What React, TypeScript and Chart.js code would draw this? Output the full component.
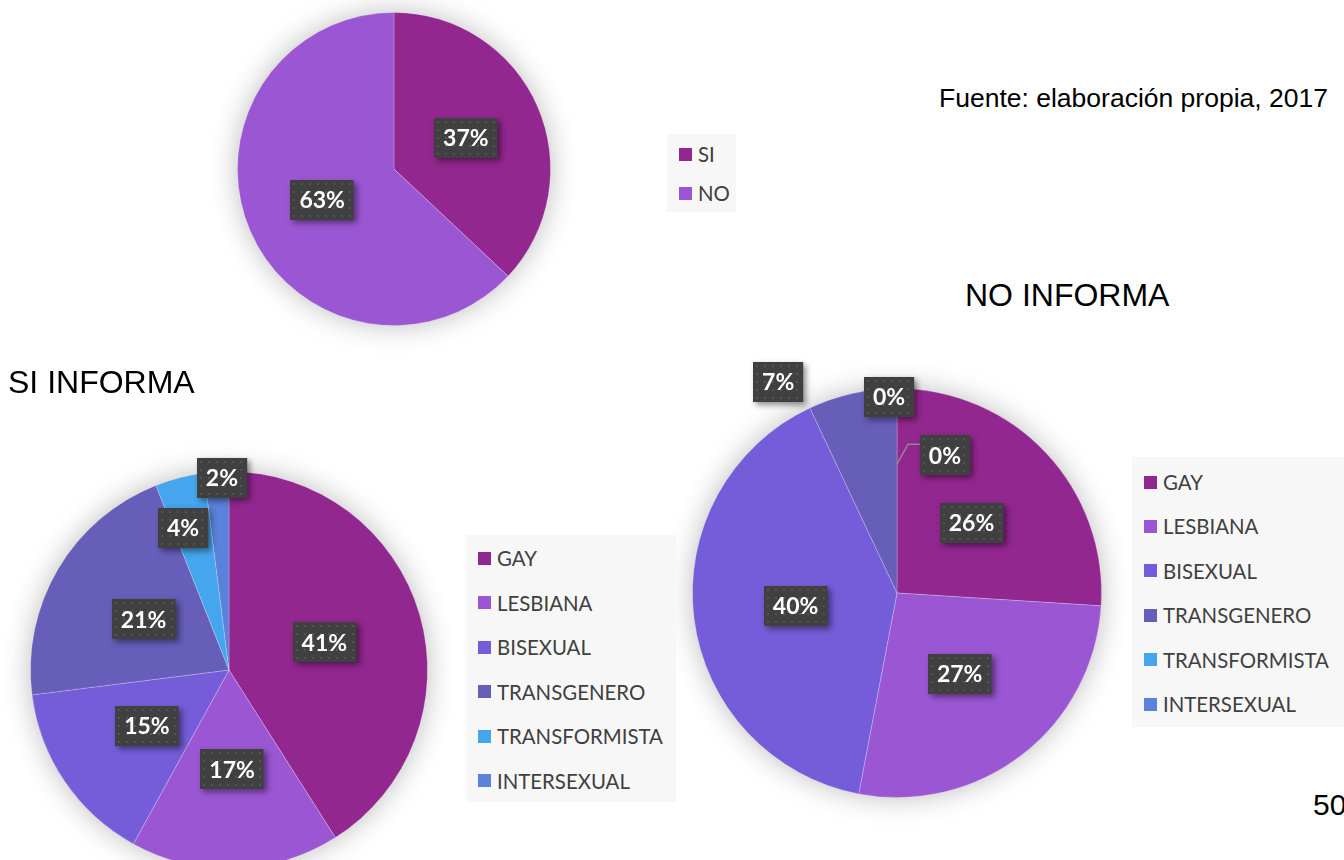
import React, { useEffect, useRef } from "react";
import { Chart, registerables } from "chart.js";
Chart.register(...registerables);

// ---------- data ----------
const overviewLabels = ["SI", "NO"];
const overviewValues = [37, 63];
const overviewColors = ["#92278F", "#9B57D3"];

const orientationLabels = ["GAY", "LESBIANA", "BISEXUAL", "TRANSGENERO", "TRANSFORMISTA", "INTERSEXUAL"];
const siInformaValues = [41, 17, 15, 21, 4, 2];
const noInformaValues = [26, 27, 40, 7, 0, 0];
const orientationColors = ["#92278F", "#9B57D3", "#755DD9", "#665EB8", "#45A5ED", "#5982DB"];

const sourceText = "Fuente: elaboración propia, 2017";
const siTitle = "SI INFORMA";
const noTitle = "NO INFORMA";
const pageNumber = "50";

type Place = { r: number; da: number; leader?: boolean };

function makePlugin(places: Place[]) {
  return {
    id: "boxLabels",
    beforeDatasetsDraw(chart: any) {
      const meta = chart.getDatasetMeta(0);
      const arc = meta.data[0];
      if (!arc) return;
      const p = arc.getProps(["x", "y", "outerRadius"], true);
      const ctx = chart.ctx;
      ctx.save();
      ctx.shadowColor = "rgba(0,0,0,0.30)";
      ctx.shadowBlur = 30;
      ctx.fillStyle = "#ffffff";
      ctx.beginPath();
      ctx.arc(p.x, p.y, p.outerRadius - 2, 0, Math.PI * 2);
      ctx.fill();
      ctx.restore();
    },
    afterDatasetsDraw(chart: any) {
      const ctx = chart.ctx;
      const meta = chart.getDatasetMeta(0);
      const values: number[] = chart.data.datasets[0].data;
      const total = values.reduce((a, b) => a + b, 0);
      meta.data.forEach((arc: any, i: number) => {
        const pl = places[i] || { r: 0.5, da: 0 };
        const p = arc.getProps(["x", "y", "startAngle", "endAngle", "outerRadius"], true);
        const mid0 = (p.startAngle + p.endAngle) / 2;
        const mid = mid0 + (pl.da * Math.PI) / 180;
        const rr = p.outerRadius * pl.r;
        const cx = p.x + Math.cos(mid) * rr;
        const cy = p.y + Math.sin(mid) * rr;
        const text = Math.round((values[i] / total) * 100) + "%";
        ctx.save();
        ctx.font = "bold 23px Lato";
        const w = ctx.measureText(text).width + 18;
        const h = 40;
        const left = Math.round(cx - w / 2);
        const top = Math.round(cy - h / 2);
        if (pl.leader) {
          const sx = p.x + Math.cos(mid0) * p.outerRadius * 0.63;
          const sy = p.y + Math.sin(mid0) * p.outerRadius * 0.63;
          ctx.strokeStyle = "#8c8c8c";
          ctx.lineWidth = 1.5;
          ctx.beginPath();
          ctx.moveTo(sx, sy);
          ctx.lineTo(sx + 11, sy - 20);
          ctx.lineTo(left, sy - 20);
          ctx.stroke();
        }
        ctx.shadowColor = "rgba(0,0,0,0.45)";
        ctx.shadowBlur = 6;
        ctx.shadowOffsetX = 3;
        ctx.shadowOffsetY = 3;
        ctx.fillStyle = "#404040";
        ctx.fillRect(left, top, w, h);
        ctx.shadowColor = "transparent";
        ctx.shadowBlur = 0;
        ctx.shadowOffsetX = 0;
        ctx.shadowOffsetY = 0;
        ctx.fillStyle = "#545454";
        for (let gx = left + 3; gx < left + w - 1; gx += 8) {
          for (let gy = top + 3; gy < top + h - 1; gy += 8) {
            ctx.fillRect(gx, gy, 2, 2);
          }
        }
        ctx.fillStyle = "#ffffff";
        ctx.textAlign = "center";
        ctx.textBaseline = "middle";
        ctx.fillText(text, cx, cy + 1);
        ctx.restore();
      });
    },
  };
}

function Pie(props: {
  labels: string[];
  values: number[];
  colors: string[];
  cx: number;
  cy: number;
  r: number;
  places: Place[];
}) {
  const ref = useRef<HTMLCanvasElement | null>(null);
  const m = 45;
  const size = 2 * (props.r + m);
  useEffect(() => {
    if (!ref.current) return;
    const chart = new Chart(ref.current, {
      type: "pie",
      data: {
        labels: props.labels,
        datasets: [
          {
            data: props.values,
            backgroundColor: props.colors,
            borderColor: "rgba(255,255,255,0.22)",
            borderWidth: 1,
          },
        ],
      },
      options: {
        animation: false,
        responsive: false,
        maintainAspectRatio: false,
        layout: { padding: m },
        plugins: { legend: { display: false }, tooltip: { enabled: false } },
      },
      plugins: [makePlugin(props.places)],
    } as any);
    return () => chart.destroy();
  }, []);
  return (
    <canvas
      ref={ref}
      width={size}
      height={size}
      style={{
        position: "absolute",
        left: props.cx - props.r - m,
        top: props.cy - props.r - m,
        width: size,
        height: size,
      }}
    />
  );
}

function Legend(props: {
  labels: string[];
  colors: string[];
  left: number;
  top: number;
  width: number;
  height: number;
  first: number;
  step: number;
}) {
  return (
    <div
      style={{
        position: "absolute",
        left: props.left,
        top: props.top,
        width: props.width,
        height: props.height,
        background: "#F7F7F7",
      }}
    >
      {props.labels.map((l, i) => (
        <div
          key={l}
          style={{
            position: "absolute",
            left: 12,
            top: props.first + i * props.step - 15,
            height: 30,
            display: "flex",
            alignItems: "center",
            whiteSpace: "nowrap",
          }}
        >
          <span style={{ display: "inline-block", width: 13, height: 13, background: props.colors[i], marginRight: 6 }} />
          <span style={{ fontFamily: "Lato", fontSize: 20.4, color: "#404040", lineHeight: "30px" }}>{l}</span>
        </div>
      ))}
    </div>
  );
}

const textStyle = (left: number, top: number, size: number): React.CSSProperties => ({
  position: "absolute",
  left,
  top,
  fontFamily: "'Liberation Sans', Arial, sans-serif",
  fontSize: size,
  lineHeight: 1,
  color: "#000",
  whiteSpace: "nowrap",
});

export default function App() {
  return (
    <div style={{ position: "absolute", left: 0, top: 0, width: 1344, height: 860, overflow: "hidden", background: "#fff" }}>
      <Pie
        labels={overviewLabels}
        values={overviewValues}
        colors={overviewColors}
        cx={394}
        cy={169}
        r={157}
        places={[
          { r: 0.5, da: 0 },
          { r: 0.5, da: 0 },
        ]}
      />
      <Pie
        labels={orientationLabels}
        values={siInformaValues}
        colors={orientationColors}
        cx={229}
        cy={670}
        r={199}
        places={[
          { r: 0.5, da: 0 },
          { r: 0.5, da: 0 },
          { r: 0.5, da: 0 },
          { r: 0.5, da: 0 },
          { r: 0.754, da: -3.5 },
          { r: 0.97, da: 1.5 },
        ]}
      />
      <Pie
        labels={orientationLabels}
        values={noInformaValues}
        colors={orientationColors}
        cx={897}
        cy={593}
        r={205}
        places={[
          { r: 0.5, da: 0 },
          { r: 0.5, da: 0 },
          { r: 0.5, da: 0 },
          { r: 1.184, da: -16.8 },
          { r: 0.96, da: -2.3 },
          { r: 0.713, da: 19.2, leader: true },
        ]}
      />
      <Legend labels={overviewLabels} colors={overviewColors} left={667} top={134} width={69} height={78} first={20} step={39} />
      <Legend labels={orientationLabels} colors={orientationColors} left={466} top={535} width={210} height={267} first={23} step={44.5} />
      <Legend labels={orientationLabels} colors={orientationColors} left={1132} top={457} width={220} height={270} first={25} step={44.4} />
      <div style={textStyle(939, 85, 26.5)}>{sourceText}</div>
      <div style={textStyle(965, 279, 32)}>{noTitle}</div>
      <div style={textStyle(8, 366, 32)}>{siTitle}</div>
      <div style={textStyle(1313, 790, 30)}>{pageNumber}</div>
    </div>
  );
}
